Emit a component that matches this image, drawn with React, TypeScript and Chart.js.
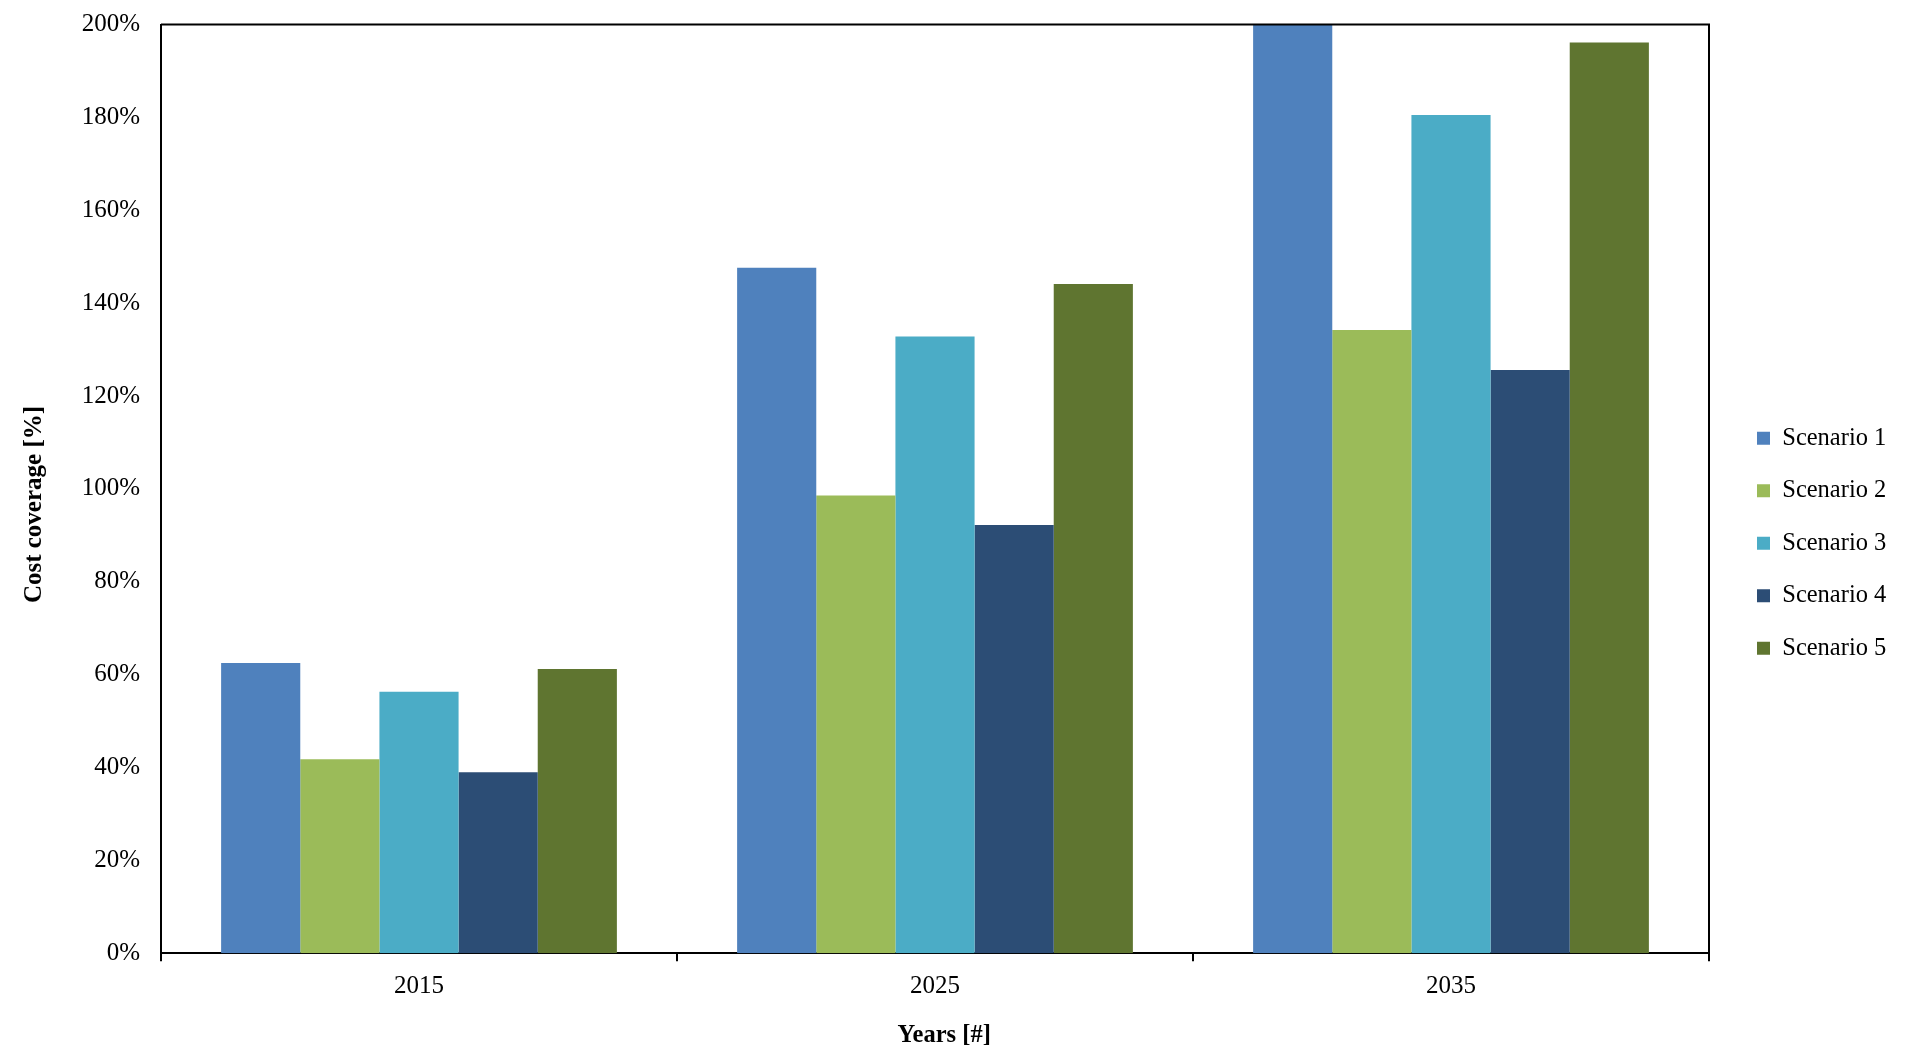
import React, { useEffect, useRef } from "react";
import { Chart, registerables } from "chart.js";

Chart.register(...registerables);

const categories = ["2015", "2025", "2035"];
const seriesNames = ["Scenario 1", "Scenario 2", "Scenario 3", "Scenario 4", "Scenario 5"];
const scenario1 = [62.5, 147.6, 200];
const scenario2 = [41.8, 98.6, 134.2];
const scenario3 = [56.3, 132.8, 180.5];
const scenario4 = [39.0, 92.2, 125.6];
const scenario5 = [61.2, 144.1, 196.1];
const seriesColors = ["#4F81BD", "#9BBB59", "#4BACC6", "#2C4D75", "#5F7530"];
const yTicks = [0, 20, 40, 60, 80, 100, 120, 140, 160, 180, 200];

const FONT = "'Liberation Serif', 'Times New Roman', serif";

export default function App() {
  const ref = useRef<HTMLCanvasElement | null>(null);

  useEffect(() => {
    if (!ref.current) return;
    const values = [scenario1, scenario2, scenario3, scenario4, scenario5];

    const legendFit = {
      id: "legendFit",
      beforeInit(chart: any) {
        const lg = chart.legend;
        if (!lg) return;
        const orig = lg.fit.bind(lg);
        lg.fit = function () {
          orig();
          this.width = 219;
        };
      },
      beforeDraw(chart: any) {
        const lg = chart.legend;
        if (lg) {
          lg.left += 20;
          lg.right += 20;
          lg.top += 2.5;
          lg.bottom += 2.5;
        }
      },
    };

    const frame = {
      id: "frame",
      afterDraw(chart: any) {
        const { ctx, chartArea } = chart;
        ctx.save();
        ctx.strokeStyle = "#000";
        ctx.lineWidth = 2;
        ctx.beginPath();
        ctx.moveTo(chartArea.left, chartArea.top);
        ctx.lineTo(chartArea.right, chartArea.top);
        ctx.lineTo(chartArea.right, chartArea.bottom);
        ctx.stroke();
        ctx.restore();
      },
    };

    const chart = new Chart(ref.current, {
      type: "bar",
      data: {
        labels: categories,
        datasets: seriesNames.map((name, i) => ({
          label: name,
          data: values[i],
          backgroundColor: seriesColors[i],
          borderWidth: 0,
          categoryPercentage: 0.767,
          barPercentage: 1,
        })),
      },
      options: {
        responsive: false,
        animation: false,
        events: [],
        layout: { padding: { top: 24.5, left: 0, right: 0, bottom: 0 } },
        font: { family: FONT },
        plugins: {
          tooltip: { enabled: false },
          legend: {
            position: "right",
            labels: {
              boxWidth: 13,
              boxHeight: 13,
              padding: 28,
              color: "#000",
              font: { family: FONT, size: 24.5 },
            },
          },
        },
        scales: {
          x: {
            offset: true,
            afterFit(scale: any) {
              scale.height = 103.7;
            },
            grid: {
              display: true,
              drawOnChartArea: false,
              drawTicks: true,
              tickLength: 8,
              color: "#000",
              lineWidth: 2,
              offset: true,
            },
            border: { display: true, color: "#000", width: 2 },
            ticks: {
              color: "#000",
              padding: 10,
              font: { family: FONT, size: 25 },
            },
            title: {
              display: true,
              text: "   Years [#]",
              color: "#000",
              font: { family: FONT, size: 24.5, weight: "bold" },
              padding: { top: 0, bottom: 7 },
            },
          },
          y: {
            min: 0,
            max: 200,
            afterFit(scale: any) {
              scale.width = 161;
              scale.paddingTop = 0;
              scale.paddingBottom = 0;
            },
            afterBuildTicks(scale: any) {
              scale.ticks = yTicks.map((v) => ({ value: v }));
            },
            grid: { display: false, drawTicks: false },
            border: { display: true, color: "#000", width: 2 },
            ticks: {
              color: "#000",
              padding: 21,
              font: { family: FONT, size: 25 },
              callback: (v: any) => v + "%",
            },
            title: {
              display: true,
              text: "Cost coverage [%]     ",
              color: "#000",
              font: { family: FONT, size: 25, weight: "bold" },
              padding: { top: 20, bottom: 0 },
            },
          },
        },
      },
      plugins: [legendFit, frame],
    });

    return () => chart.destroy();
  }, []);

  return (
    <div style={{ position: "fixed", left: 0, top: 0, width: 1928, height: 1057, background: "#fff" }}>
      <canvas ref={ref} width={1928} height={1057} style={{ display: "block" }} />
    </div>
  );
}
